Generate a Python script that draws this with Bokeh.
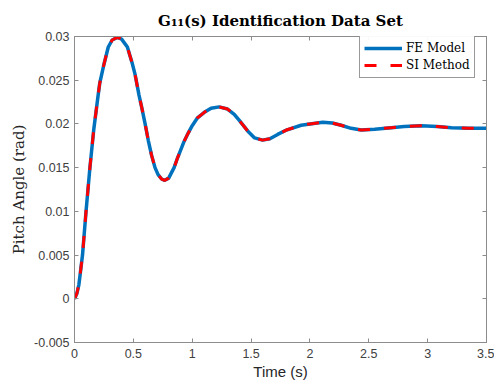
from bokeh.plotting import figure
from bokeh.models import Range1d, FixedTicker, LinearAxis, Legend, LegendItem
from bokeh.embed import file_html
from bokeh.resources import INLINE

# ---- data ----
t_fe = [0.000, 0.020, 0.037, 0.050, 0.068, 0.098, 0.131, 0.164, 0.198, 0.215,
        0.250, 0.287, 0.320, 0.364, 0.400, 0.449, 0.491, 0.514, 0.548, 0.571,
        0.600, 0.627, 0.655, 0.684, 0.710, 0.740, 0.766, 0.800, 0.846, 0.875,
        0.931, 0.960, 1.000, 1.045, 1.100, 1.160, 1.229, 1.300, 1.357, 1.400,
        1.471, 1.530, 1.598, 1.660, 1.726, 1.800, 1.925, 2.000, 2.109, 2.190,
        2.265, 2.350, 2.436, 2.550, 2.690, 2.800, 2.946, 3.080, 3.202, 3.350,
        3.500]
y_fe = [0.0000, 0.0006, 0.0016, 0.0030, 0.0050, 0.0100, 0.0150, 0.0194, 0.0230, 0.0247,
        0.0268, 0.0288, 0.0296, 0.0299, 0.0297, 0.0288, 0.0269, 0.0257, 0.0233, 0.0219,
        0.0200, 0.0181, 0.0164, 0.0150, 0.0142, 0.0137, 0.01355, 0.0138, 0.0150, 0.0161,
        0.0180, 0.0188, 0.0198, 0.0207, 0.0213, 0.0218, 0.02195, 0.0217, 0.0211, 0.0204,
        0.0192, 0.0184, 0.01815, 0.0183, 0.0188, 0.0193, 0.01985, 0.0200, 0.0202, 0.0201,
        0.01985, 0.0195, 0.0193, 0.0194, 0.01957, 0.0197, 0.0198, 0.0197, 0.01957, 0.0195,
        0.0195]
t_si = list(t_fe)
y_si = list(y_fe)

x_ticks = [0, 0.5, 1, 1.5, 2, 2.5, 3, 3.5]
x_tick_labels = ["0", "0.5", "1", "1.5", "2", "2.5", "3", "3.5"]
y_ticks = [-0.005, 0, 0.005, 0.01, 0.015, 0.02, 0.025, 0.03]
y_tick_labels = ["-0.005", "0", "0.005", "0.01", "0.015", "0.02", "0.025", "0.03"]

series_names = ["FE Model", "SI Method"]
title_text = "G\u2081\u2081(s) Identification Data Set"

GRAY = "#8c8c8c"
TXT = "#404040"
SERIF = "DejaVu Serif"
SANS = "Liberation Sans"

p = figure(width=494, height=385, x_range=Range1d(0, 3.5), y_range=Range1d(-0.005, 0.03),
           output_backend="svg", toolbar_location=None,
           min_border_left=74, min_border_right=8, min_border_top=36, min_border_bottom=43)
p.background_fill_color = "white"
p.border_fill_color = "white"
p.outline_line_color = GRAY
p.grid.visible = False

p.title.text = title_text
p.title.align = "center"
p.title.text_font = SERIF
p.title.text_font_style = "bold"
p.title.text_font_size = "15px"
p.title.text_color = "#000000"
p.title.standoff = 13

for ax, ticks, labels in ((p.xaxis[0], x_ticks, x_tick_labels), (p.yaxis[0], y_ticks, y_tick_labels)):
    ax.ticker = FixedTicker(ticks=ticks)
    ax.major_label_overrides = {t: l for t, l in zip(ticks, labels)}
    ax.major_tick_in = 4
    ax.major_tick_out = 0
    ax.minor_tick_line_color = None
    ax.axis_line_color = GRAY
    ax.major_tick_line_color = GRAY
    ax.major_label_text_font = SANS
    ax.major_label_text_font_size = "12.5px"
    ax.major_label_text_color = TXT

p.xaxis.major_label_standoff = 6
p.yaxis.major_label_standoff = 5
p.xaxis.axis_label = "Time (s)"
p.xaxis.axis_label_text_font = SANS
p.xaxis.axis_label_text_font_style = "normal"
p.xaxis.axis_label_text_font_size = "15px"
p.xaxis.axis_label_text_color = "#262626"
p.xaxis.axis_label_standoff = 2
p.yaxis.axis_label = "Pitch Angle (rad)"
p.yaxis.axis_label_text_font = SERIF
p.yaxis.axis_label_text_font_style = "normal"
p.yaxis.axis_label_text_font_size = "15px"
p.yaxis.axis_label_text_color = "#262626"
p.yaxis.axis_label_standoff = 3

top = LinearAxis(ticker=FixedTicker(ticks=x_ticks), major_tick_in=4, major_tick_out=0,
                 minor_tick_line_color=None, axis_line_color=GRAY, major_tick_line_color=GRAY,
                 major_label_text_font_size="0px", major_label_text_color=None, major_label_standoff=0)
right = LinearAxis(ticker=FixedTicker(ticks=y_ticks), major_tick_in=4, major_tick_out=0,
                   minor_tick_line_color=None, axis_line_color=GRAY, major_tick_line_color=GRAY,
                   major_label_text_font_size="0px", major_label_text_color=None, major_label_standoff=0)
p.add_layout(top, "above")
p.add_layout(right, "right")

r_fe = p.line(t_fe, y_fe, line_color="#0072BD", line_width=3.5)
r_si = p.line(t_si, y_si, line_color="#FF0000", line_width=3, line_dash="12 14")

legend = Legend(items=[LegendItem(label=series_names[0], renderers=[r_fe]),
                       LegendItem(label=series_names[1], renderers=[r_si])],
                location=(285, 264), glyph_width=38, glyph_height=16, label_height=16,
                label_standoff=4, padding=4, spacing=1, margin=0,
                label_text_font=SERIF, label_text_font_size="12px", label_text_color="#000000",
                border_line_color="#333333", border_line_width=1, background_fill_color="white")
p.add_layout(legend)

open("out.html", "w").write(file_html(p, INLINE))
